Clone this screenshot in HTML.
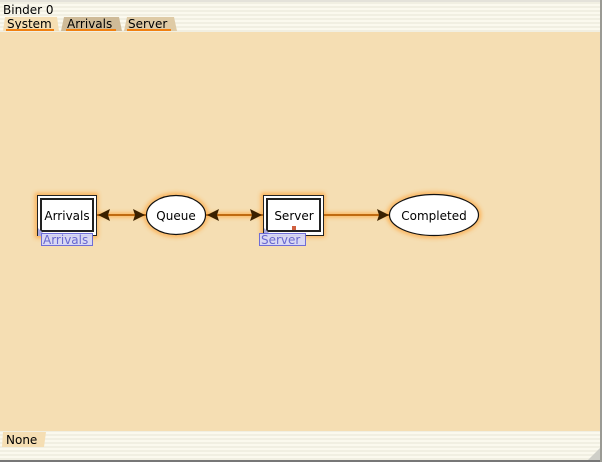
<!DOCTYPE html>
<html><head><style>
html,body{margin:0;padding:0;width:602px;height:462px;overflow:hidden;background:#f5deb3}
svg{display:block}
text{font-family:"DejaVu Sans","Liberation Sans",sans-serif}
</style></head><body>
<svg width="602" height="462" viewBox="0 0 602 462" xmlns="http://www.w3.org/2000/svg">
<defs>
<pattern id="st" width="4" height="4" patternUnits="userSpaceOnUse">
<rect width="4" height="4" fill="#fbf9ee"/><rect y="2" width="4" height="2" fill="#f1efe2"/>
</pattern>
<filter id="gl" x="-30%" y="-30%" width="160%" height="160%"><feGaussianBlur stdDeviation="2"/></filter>
</defs>
<rect width="602" height="462" fill="#f5deb3"/>
<!-- top header -->
<rect x="0" y="0" width="602" height="32" fill="url(#st)"/>
<rect x="0" y="0" width="602" height="2" fill="#e4e2da"/>
<text x="3" y="14" font-size="12" fill="#000">Binder 0</text>
<!-- tabs -->
<path d="M3,31 L5,17 L57,17 L59,31 Z" fill="#f5deb3"/>
<path d="M61,31 L64,17 L119,17 L122,31 Z" fill="#cfbb98"/>
<path d="M124,31 L127,17 L174,17 L177,31 Z" fill="#dfcba6"/>
<text x="7" y="28" font-size="12" fill="#000">System</text>
<text x="67" y="28" font-size="12" fill="#000">Arrivals</text>
<text x="128" y="28" font-size="12" fill="#000">Server</text>
<rect x="6" y="29" width="48" height="2" fill="#f08010"/>
<rect x="66" y="29" width="50" height="2" fill="#f08010"/>
<rect x="127" y="29" width="44" height="2" fill="#f08010"/>
<!-- bottom -->
<rect x="0" y="431" width="602" height="31" fill="url(#st)"/>
<path d="M2,447 L3,432 L46,432 L44,447 Z" fill="#f5deb3"/>
<text x="6" y="444" font-size="12" fill="#000">None</text>
<path d="M588,460 L600,448 L600,460 Z" fill="#cfcfc8"/>
<rect x="0" y="460" width="602" height="2" fill="#777"/>
<rect x="600" y="0" width="2" height="462" fill="#9a9a94"/>
<!-- glows -->
<g filter="url(#gl)" fill="none" stroke="#ffa030" stroke-width="4" opacity="0.8">
<rect x="37" y="195" width="59" height="41"/>
<rect x="263" y="195" width="60" height="40"/>
<ellipse cx="176" cy="215" rx="30" ry="20"/>
<ellipse cx="434" cy="215" rx="45" ry="21"/>
<line x1="97" y1="215" x2="146" y2="215"/>
<line x1="206" y1="215" x2="263" y2="215"/>
<line x1="324" y1="215" x2="389" y2="215"/>
</g>
<!-- connectors -->
<g stroke="#c06a10" stroke-width="2">
<line x1="97" y1="215" x2="146" y2="215"/>
<line x1="206" y1="215" x2="263" y2="215"/>
<line x1="324" y1="215" x2="389" y2="215"/>
</g>
<g fill="#3a2000">
<path d="M98,215 L110,209 L108,215 L110,221 Z"/>
<path d="M145,215 L133,209 L135,215 L133,221 Z"/>
<path d="M207,215 L219,209 L217,215 L219,221 Z"/>
<path d="M262,215 L250,209 L252,215 L250,221 Z"/>
<path d="M389,215 L377,209 L379,215 L377,221 Z"/>
</g>
<!-- Arrivals -->
<rect x="37.5" y="195.5" width="59" height="40" fill="#fff" stroke="#222" stroke-width="1"/>
<rect x="41" y="199" width="52" height="32" fill="#fff" stroke="#222" stroke-width="2"/>
<text x="67" y="220" font-size="12" text-anchor="middle" fill="#000">Arrivals</text>
<path d="M38,228 L38,236 L46,236 Z" fill="#a8a8e0"/>
<rect x="41.5" y="233.5" width="51" height="12" fill="#d8d8f8" stroke="#6868d8" opacity="0.95"/>
<text x="43" y="244" font-size="12" fill="#6868d0">Arrivals</text>
<!-- Queue -->
<ellipse cx="176" cy="215" rx="29.5" ry="19.5" fill="#fff" stroke="#111" stroke-width="1.2"/>
<text x="176" y="220" font-size="12" text-anchor="middle" fill="#000">Queue</text>
<!-- Server -->
<rect x="263.5" y="195.5" width="60" height="40" fill="#fff" stroke="#222" stroke-width="1"/>
<rect x="267" y="199" width="53" height="32" fill="#fff" stroke="#222" stroke-width="2"/>
<text x="294" y="220" font-size="12" text-anchor="middle" fill="#000">Server</text>
<rect x="292" y="226" width="4" height="4" fill="#d06040"/>
<path d="M264,228 L264,236 L272,236 Z" fill="#a8a8e0"/>
<rect x="259.5" y="233.5" width="46" height="12" fill="#d8d8f8" stroke="#6868d8" opacity="0.95"/>
<text x="261" y="244" font-size="12" fill="#6868d0">Server</text>
<!-- Completed -->
<ellipse cx="434" cy="215" rx="44.5" ry="20.5" fill="#fff" stroke="#111" stroke-width="1.2"/>
<text x="434" y="220" font-size="12" text-anchor="middle" fill="#000">Completed</text>
</svg>
</body></html>
